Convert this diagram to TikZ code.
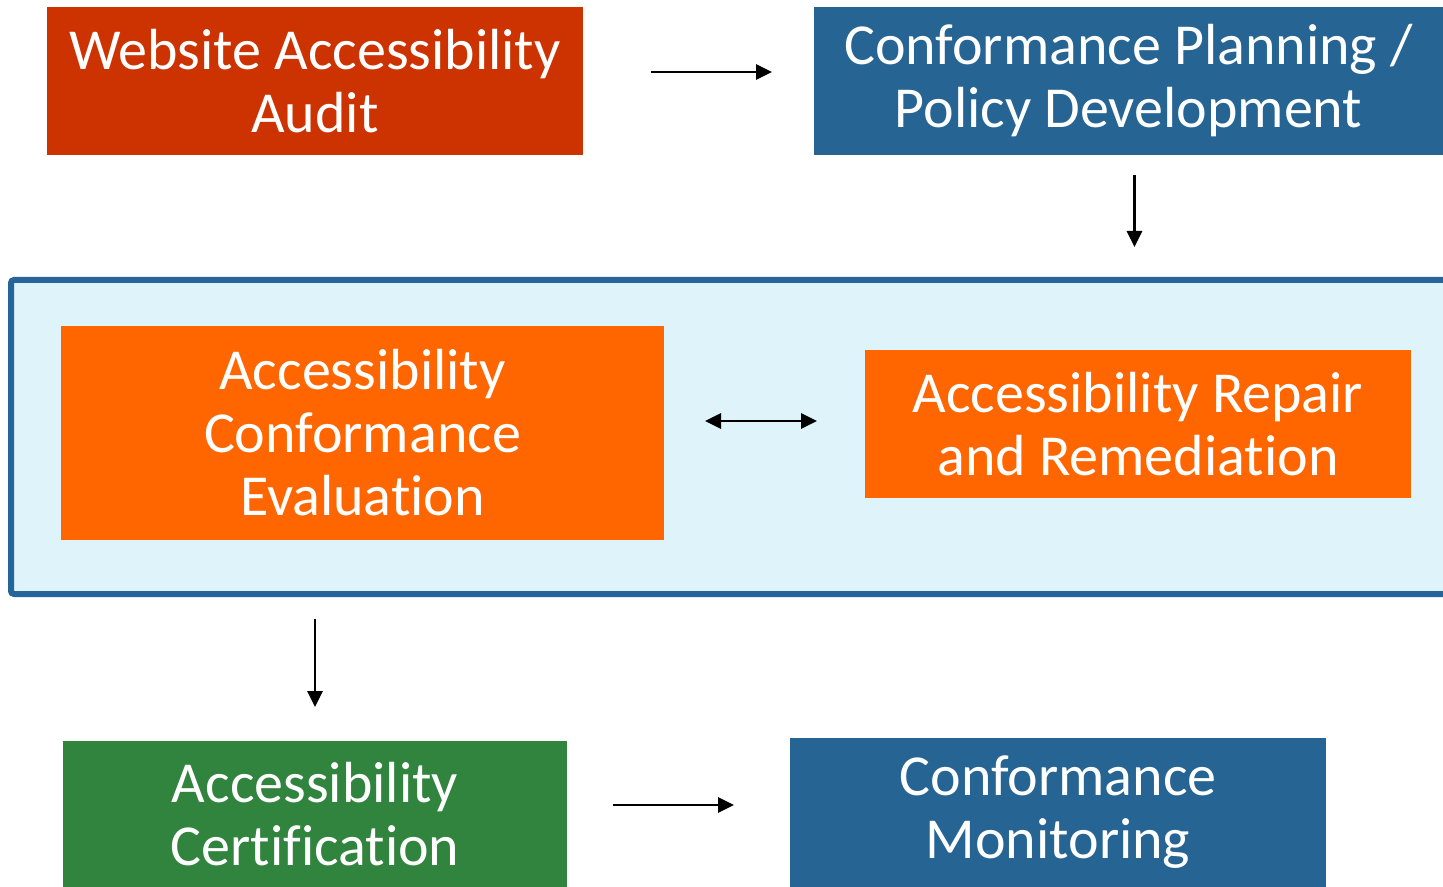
\documentclass[tikz,border=0pt]{standalone}
\usepackage{fontspec}
\setmainfont{Carlito}[Ligatures={NoCommon}]
\usetikzlibrary{arrows.meta}
\definecolor{auditred}{HTML}{CC3300}
\definecolor{planblue}{HTML}{256493}
\definecolor{evalorange}{HTML}{FF6600}
\definecolor{certgreen}{HTML}{31843E}
\definecolor{groupfill}{HTML}{DEF4FA}
\definecolor{groupline}{HTML}{25659A}
\begin{document}
\begin{tikzpicture}[
    x=0.5pt, y=-0.5pt,
    >={Triangle[length=8pt,width=7.5pt]},
    every node/.style={inner sep=0pt,outer sep=0pt},
    stagebox/.style={rectangle,text=white,align=center,
      font=\fontsize{29}{31.5}\selectfont},
    groupbox/.style={rectangle,draw=groupline,fill=groupfill,
      line width=3pt,rounded corners=1.5pt},
    link/.style={line width=1.4pt},
  ]
  \useasboundingbox (0,0) rectangle (1443,887);
  % stages
  \node[stagebox,fill=auditred,minimum width=268pt,minimum height=74pt]
    (audit) at (315,81) {Website Accessibility\\Audit};
  \node[stagebox,fill=planblue,minimum width=314.5pt,minimum height=74pt]
    (plan) at (1128.5,81) {Conformance Planning /\\Policy Development};
  \node[groupbox,minimum width=724.5pt,minimum height=157pt]
    (group) at (735.5,437) {};
  \node[stagebox,fill=evalorange,minimum width=301.5pt,minimum height=107pt]
    (eval) at (362.5,433) {Accessibility\\Conformance\\Evaluation};
  \node[stagebox,fill=evalorange,minimum width=273pt,minimum height=74pt]
    (repair) at (1138,424) {Accessibility Repair\\and Remediation};
  \node[stagebox,fill=certgreen,minimum width=252pt,minimum height=73pt]
    (cert) at (315,814) {Accessibility\\Certification};
  \node[stagebox,fill=planblue,minimum width=268pt,minimum height=74.5pt]
    (monitor) at (1058,812.5) {Conformance\\Monitoring};
  % links
  \draw[link,->,shorten <=34pt,shorten >=21pt]
    ([yshift=4.5pt]audit.east) -- ([yshift=4.5pt]plan.west);
  \draw[link,->,shorten <=10pt,shorten >=16.5pt]
    ([xshift=3pt]plan.south) -- ([xshift=3pt]plan.south |- group.north);
  \draw[link,<->,shorten <=20.5pt,shorten >=24pt]
    ([yshift=1.5pt]eval.east |- repair.west) -- ([yshift=1.5pt]repair.west);
  \draw[link,->,shorten <=12.5pt,shorten >=17pt]
    (cert.north |- group.south) -- (cert.north);
  \draw[link,->,shorten <=23pt,shorten >=28pt]
    ([yshift=4.5pt]cert.east) -- ([yshift=4.5pt]cert.east -| monitor.west);
\end{tikzpicture}
\end{document}
